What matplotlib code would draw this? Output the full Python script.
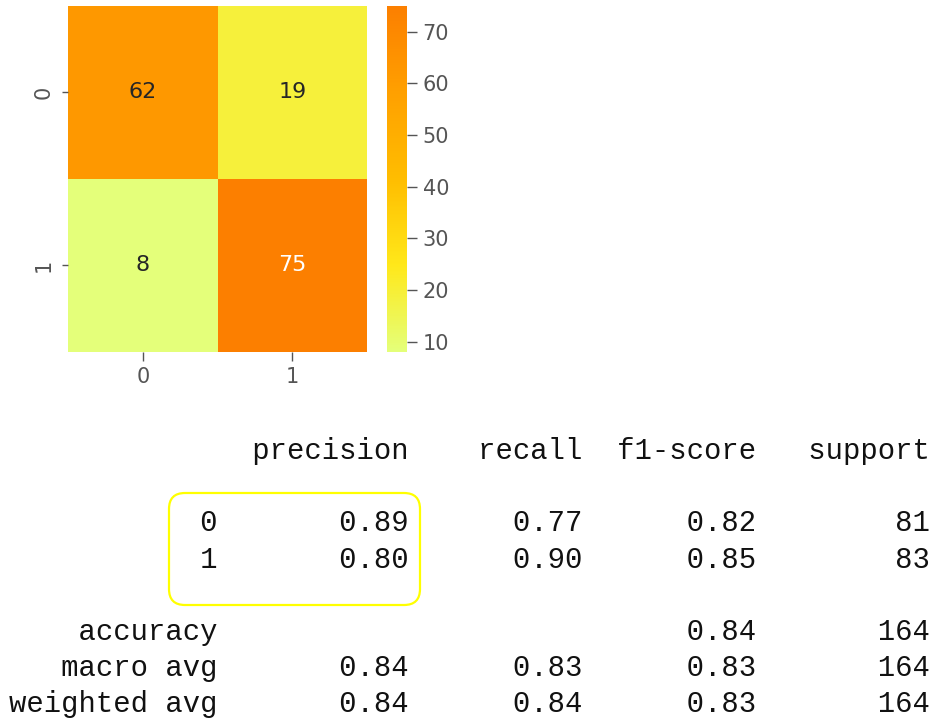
import matplotlib
matplotlib.use("Agg")
import matplotlib.pyplot as plt
from matplotlib.patches import FancyBboxPatch
import numpy as np
import seaborn as sns

# ---- data ----
confusion = [[62, 19],
             [8, 75]]
class_labels = ["0", "1"]
cbar_ticks = [10, 20, 30, 40, 50, 60, 70]

report_headers = ["precision", "recall", "f1-score", "support"]
report_classes = ["0", "1"]
precision = [0.89, 0.80]
recall = [0.77, 0.90]
f1_score = [0.82, 0.85]
support = [81, 83]
accuracy = 0.84
total_support = 164
avg_names = ["macro avg", "weighted avg"]
avg_precision = [0.84, 0.84]
avg_recall = [0.83, 0.84]
avg_f1 = [0.83, 0.83]

W, H = 934, 719
fig = plt.figure(figsize=(W / 100, H / 100), dpi=100)
fig.patch.set_facecolor("white")

def fx(px):
    return px / W

def fy(py):
    return 1 - py / H

tick_col = "#555555"
ax = fig.add_axes([fx(68), fy(352), fx(367) - fx(68), fy(6) - fy(352)])
cax = fig.add_axes([fx(387), fy(352), fx(407) - fx(387), fy(6) - fy(352)])

sns.heatmap(np.array(confusion), annot=True, fmt="d", cmap="Wistia",
            ax=ax, cbar_ax=cax, annot_kws={"fontsize": 16},
            xticklabels=class_labels, yticklabels=class_labels)

ax.tick_params(axis="x", colors=tick_col, labelsize=15, length=6.5, width=1, pad=4)
ax.tick_params(axis="y", colors=tick_col, labelsize=15, length=4.5, width=1, pad=5.5)
ax.set_yticklabels(class_labels, rotation=90, va="center")
for t in ax.get_xticklabels() + ax.get_yticklabels():
    t.set_color(tick_col)
cax.set_yticks(cbar_ticks)
cax.tick_params(colors=tick_col, labelsize=15, length=7, width=1, pad=4.3)
for t in cax.get_yticklabels():
    t.set_color(tick_col)

# ---- classification report text ----
width = 12
head = " " * width + " " + "".join(" {:>9}".format(h) for h in report_headers)
rows = []
for name, p, r, f, s in zip(report_classes, precision, recall, f1_score, support):
    rows.append("{:>12s} ".format(name) + " {:>9.2f}".format(p) + " {:>9.2f}".format(r)
                + " {:>9.2f}".format(f) + " {:>9}".format(s))
acc_line = "{:>12s} ".format("accuracy") + " {:>9}".format("") + " {:>9}".format("") \
    + " {:>9.2f}".format(accuracy) + " {:>9}".format(total_support)
avg_lines = []
for name, p, r, f in zip(avg_names, avg_precision, avg_recall, avg_f1):
    avg_lines.append("{:>12s} ".format(name) + " {:>9.2f}".format(p) + " {:>9.2f}".format(r)
                     + " {:>9.2f}".format(f) + " {:>9}".format(total_support))

all_lines = [head, "", rows[0], rows[1], "", acc_line, avg_lines[0], avg_lines[1]]
base0 = 459
step = 36.2
for i, line in enumerate(all_lines):
    if not line:
        continue
    fig.text(fx(9), fy(base0 + i * step), line, family="Liberation Mono",
             fontsize=20.8, color="#111111", ha="left", va="baseline")

box = FancyBboxPatch((1.69, (H - 605) / 100), (420 - 169) / 100, (605 - 493) / 100,
                     boxstyle="round,pad=0,rounding_size=0.16",
                     transform=fig.dpi_scale_trans, fill=False,
                     edgecolor="#ffff00", linewidth=1.6)
fig.add_artist(box)

fig.savefig("out.png", dpi=100)
